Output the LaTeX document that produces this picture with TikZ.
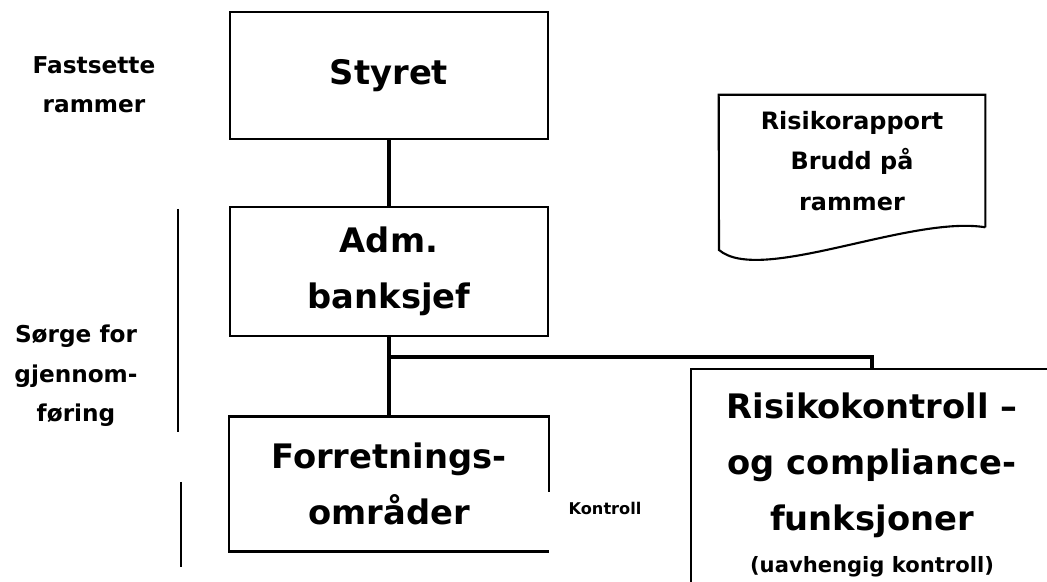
\documentclass[tikz,border=0pt]{standalone}
\usepackage{fontspec}
\setmainfont{DejaVu Sans}
\usetikzlibrary{positioning}

\begin{document}
\begin{tikzpicture}[x=0.025cm, y=-0.025cm]
			\tikzstyle{Box}		= [rectangle, draw, line width=2pt, align=center, inner sep=0pt, font=\fontsize{24}{40}\selectfont\bfseries]
			\tikzstyle{Open}	= [Box, draw=none]
			\tikzstyle{Note}	= [align=center, inner sep=0pt, font=\fontsize{16.5}{28}\selectfont\bfseries]
			\tikzstyle{Report}	= [align=center, inner sep=0pt, font=\fontsize{17}{29}\selectfont\bfseries]
			\tikzstyle{Small}	= [inner sep=0pt, font=\fontsize{11.5}{14}\selectfont\bfseries]
			\tikzstyle{Link}	= [line width=3.5pt, black]
			\tikzstyle{Edge}	= [line width=2pt, black]
			\tikzstyle{Bar}		= [line width=1.5pt, black]

			\useasboundingbox (0,0) rectangle (1047,582);

			\node (styret) at (389,75.5) [Box, minimum width=7.95cm, minimum height=3.175cm] {Styret};
			\node (adm) at (389,271.5) [Box, minimum width=7.95cm, minimum height=3.225cm] {Adm.\\banksjef};
			\node (omr) at (389,484) [Open, minimum width=7.925cm, minimum height=3.3cm] {Forretnings-\\områder};
			\node (risk) at (872,485) [Box, minimum width=9.05cm, minimum height=5.8cm] {Risikokontroll –\\og compliance-\\funksjoner\\[-10pt]{\fontsize{15}{18}\selectfont (uavhengig kontroll)}};
			\node (rapport) at (852,161) [Report, minimum width=6.65cm, minimum height=3.3cm] {Risikorapport\\Brudd på\\rammer};
			\node (ramme) at (94,85) [Note] {Fastsette\\rammer};
			\node (sorge) at (76,376) [Note] {Sørge for\\gjennom-\\føring};
			\node (kontroll) at (605,508) [Small] {Kontroll};

			\coordinate (split) at (389,357);
			\coordinate (fold) at (719,250);
			\coordinate (bar1a) at (178,209);
			\coordinate (bar1b) at (178,432);
			\coordinate (bar2a) at (181,482);
			\coordinate (bar2b) at (181,567);

			\draw [-] (styret) to (adm) [Link];
			\draw [-] (adm) to (omr) [Link];
			\draw [-] (split) -| (risk.north) [Link];
			\draw [Edge] ([yshift=-1.875cm]omr.north east) -- (omr.north east) -- (omr.north west) -- (omr.south west) -- (omr.south east);
			\draw [Bar] (rapport.south east) -- (rapport.north east) -- (rapport.north west) -- (fold) .. controls (760,285) and (910,215) .. (rapport.south east);
			\draw [-] (bar1a) to (bar1b) [Bar];
			\draw [-] (bar2a) to (bar2b) [Bar];

		\end{tikzpicture}
\end{document}
